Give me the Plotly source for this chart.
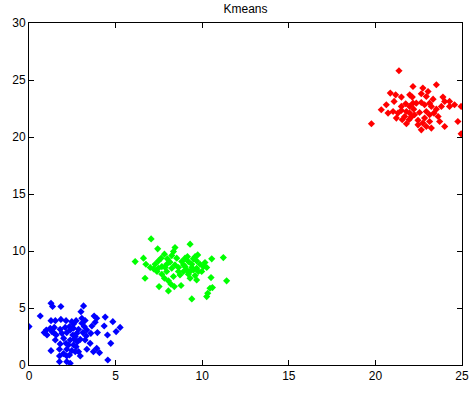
import plotly.graph_objects as go

blue_x = [1.27,1.36,1.84,3.15,3.0,0.65,0.0,1.27,1.52,1.84,2.47,2.57,3.05,3.24,3.76,3.91,3.82,4.4,4.84,5.26,
          5.03,4.34,3.95,3.57,3.19,2.86,2.57,2.34,2.09,1.80,1.46,1.23,1.0,0.88,1.04,1.42,1.9,2.18,2.53,2.76,
          3.11,3.3,4.53,4.72,1.52,2.0,2.38,2.61,2.8,2.96,2.28,2.57,2.72,2.18,2.47,2.86,1.27,1.76,3.34,3.72,
          4.07,1.76,2.18,2.34,2.96,1.76,2.18,2.38,4.55,3.91,3.53,1.80,1.57,1.32,2.14,2.72,3.34,3.63,3.05,2.67,
          1.99,3.24,2.38,2.67,2.14]
blue_y = [5.42,5.13,5.13,5.18,4.68,4.3,3.37,3.89,3.89,4.0,3.8,3.6,4.1,3.9,4.3,4.1,3.75,4.2,3.8,3.3,
          2.93,3.42,2.84,2.78,3.37,3.13,3.22,3.37,3.3,3.13,3.3,3.22,3.07,2.84,2.63,2.84,2.78,2.84,2.63,2.78,
          2.84,2.55,2.63,1.9,2.19,2.34,2.19,2.25,2.05,2.25,1.76,1.76,1.61,1.38,1.26,1.17,1.26,1.38,1.38,1.17,
          1.08,0.79,0.79,0.88,0.79,0.29,0.29,0.15,0.44,1.46,1.9,1.85,2.63,2.93,3.89,3.89,3.07,3.42,3.66,1.17,
          1.0,2.19,3.07,2.49,1.9]

green_x = [7.05,7.43,8.43,9.3,8.34,8.24,7.82,7.63,7.47,6.61,6.13,6.75,7.0,7.2,7.39,7.67,7.95,8.14,8.43,8.63,
           8.82,9.01,9.2,9.4,9.59,9.74,9.68,9.88,10.07,10.26,10.55,11.22,10.51,9.78,9.49,9.3,9.11,8.92,8.72,9.59,
           9.3,9.68,7.95,7.67,7.82,8.05,8.2,8.39,8.78,7.51,6.7,8.05,10.45,10.59,10.32,10.26,9.4,11.41,9.01,8.24,
           7.28,8.53,7.99,9.15,9.49,8.63,9.97,10.16,7.47,8.34,9.2,8.92,9.4,7.86,9.68]
green_y = [11.06,10.19,10.3,10.6,9.95,9.6,9.72,9.37,9.13,9.37,9.07,8.84,8.55,8.43,8.2,8.63,8.84,9.02,8.78,8.55,
           9.07,9.37,9.07,8.84,9.5,9.66,9.13,8.84,8.63,8.55,9.31,9.42,7.67,8.2,8.34,8.2,8.34,8.2,7.9,7.84,
           7.61,7.46,8.2,7.96,7.61,7.38,7.08,6.88,6.97,6.88,7.61,6.5,6.73,6.79,6.29,6.0,5.8,7.38,8.63,8.49,
           8.84,9.37,9.31,9.5,9.31,8.2,8.2,8.99,8.49,7.76,7.96,8.78,8.55,8.55,8.49]

red_x = [21.36,22.17,22.74,23.52,23.04,22.65,20.86,21.17,21.5,21.98,22.13,22.94,23.9,24.0,24.28,24.57,24.95,21.08,20.63,20.34,
         20.73,21.02,21.3,21.5,21.75,21.98,22.21,22.36,22.65,22.84,23.13,23.23,23.52,23.81,23.38,23.13,22.84,22.55,22.26,21.98,
         21.79,21.69,21.94,21.55,21.79,22.46,22.74,22.65,23.13,23.23,23.71,24.0,24.76,24.95,19.77,22.46,22.94,22.17,21.5,21.21,
         22.94,23.33,24.28,22.07,23.62]
red_y = [25.81,24.43,24.29,24.58,23.99,23.79,23.85,23.7,23.5,23.7,23.5,23.55,23.5,23.12,23.12,22.83,22.68,23.12,22.83,22.39,
         22.1,22.24,22.1,22.68,22.92,22.68,22.44,22.97,23.03,22.83,22.97,22.68,22.44,22.68,22.1,21.95,21.66,22.15,21.95,22.1,
         22.24,21.8,21.51,21.51,21.16,21.07,21.22,20.63,21.36,20.78,21.36,20.92,21.36,20.28,21.16,21.46,22.24,22.97,22.33,21.66,
         20.92,23.32,22.68,21.75,21.8]

x_ticks = [0, 5, 10, 15, 20, 25]
y_ticks = [0, 5, 10, 15, 20, 25, 30]

fig = go.Figure()
for xs, ys, col in [(blue_x, blue_y, "#0000FF"), (green_x, green_y, "#00FF00"), (red_x, red_y, "#FF0000")]:
    fig.add_trace(go.Scatter(x=xs, y=ys, mode="markers",
                             marker=dict(symbol="diamond", size=5.5, color=col, line=dict(width=0)),
                             showlegend=False, cliponaxis=True))

axis_common = dict(showline=True, linecolor="black", linewidth=1, mirror="ticks",
                   ticks="inside", ticklen=5, tickcolor="black", showgrid=False, zeroline=False,
                   automargin=False,
                   tickfont=dict(family="Liberation Sans, Arial", size=12, color="black"))
fig.update_xaxes(range=[0, 25], tickvals=x_ticks, **axis_common)
fig.update_yaxes(range=[0, 30], tickvals=y_ticks, **axis_common)

fig.update_layout(
    width=473, height=396,
    margin=dict(l=29, r=11, t=23, b=31),
    paper_bgcolor="white", plot_bgcolor="white",
    title=dict(text="Kmeans", x=(29 + 462) / 2 / 473, xanchor="center", y=1 - 9 / 396, yanchor="middle",
               font=dict(family="Liberation Sans, Arial", size=12, color="black")),
)

fig.write_html("out.html", config={"displayModeBar": False},
               post_script="document.body.style.margin='0';")
